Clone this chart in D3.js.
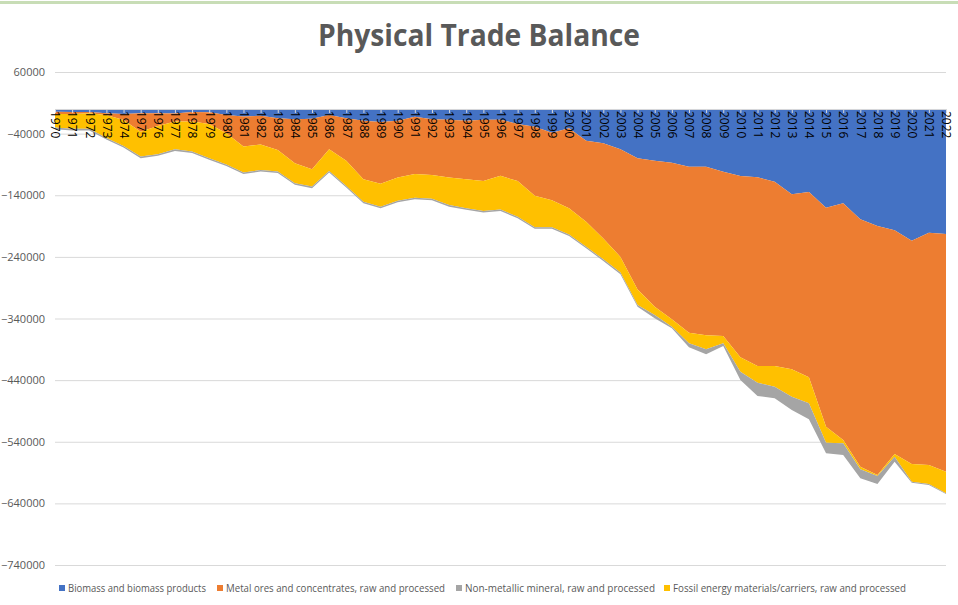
<!DOCTYPE html>
<html>
<head>
<meta charset="utf-8">
<script src="https://cdn.jsdelivr.net/npm/d3@7"></script>
<style>
  body { margin: 0; background: #fff; }
  svg text { font-family: "Open Sans", "DejaVu Sans", sans-serif; }
</style>
</head>
<body>
<div class="chart-container"></div>
<script>
// values (tonnes, negative = net export)
var years = d3.range(1970, 2023);

var biomass = [-4400, -4900, -5000, -7000, -8000, -7000, -7000, -7500, -5000, -5500,
    -9700, -12400, -11000, -15000, -16800, -16000, -9700, -15000, -19000, -21000,
    -19000, -12500, -16800, -17500, -19000, -17500, -17500, -24400, -28700, -38400,
    -31400, -51400, -55700, -65400, -80100, -83900, -87100, -93600, -93600, -101700,
    -108700, -110900, -118000, -138500, -134700, -160100, -153100, -179000, -189900, -196900,
    -213700, -200700, -202900];

var metal = [-3600, -3100, -2000, -2700, -10000, -30000, -20500, -13000, -15500, -19000,
    -29800, -48600, -46500, -51500, -71200, -82000, -55800, -69000, -95000, -100500,
    -92000, -93000, -90200, -93500, -95000, -99500, -91000, -92600, -112300, -109600,
    -129600, -131600, -154300, -174600, -212900, -237000, -254200, -269400, -273700, -266700,
    -294300, -306200, -299100, -283900, -300700, -355500, -384100, -401500, -404100, -363000,
    -362300, -377000, -385700];

var nonmetal = [-3000, -3000, -3000, -2500, -2500, -3000, -2500, -2500, -2500, -2500,
    -2500, -2500, -2500, -2500, -2500, -2500, -2500, -2500, -2500, -2500,
    -2500, -2500, -2500, -2500, -2500, -2500, -2500, -2500, -2500, -2500,
    -2500, -2500, -2500, -2500, -3000, -5400, -2600, -6500, -8100, -4400,
    -13500, -21500, -18800, -21600, -26000, -17200, -19000, -14600, -13000, -8100,
    -1600, -1600, -1200];

var fossil = [-22000, -24000, -25000, -37300, -42000, -40000, -46000, -45000, -48500, -55500,
    -50500, -42000, -41500, -35000, -32500, -28000, -35000, -41000, -36500, -37000,
    -38000, -38500, -38500, -45000, -47000, -48500, -54500, -58000, -51000, -44000,
    -42500, -40500, -34000, -25500, -25000, -13400, -12000, -17200, -22700, -11800,
    -23300, -27100, -33600, -44500, -42200, -25900, -5300, -4200, -1500, -4300,
    -28800, -30900, -35000];

var yTicks = [60000, -40000, -140000, -240000, -340000, -440000, -540000, -640000, -740000];

var seriesNames = ["Biomass and biomass products",
    "Metal ores and concentrates, raw and processed",
    "Non-metallic mineral, raw and processed",
    "Fossil energy materials/carriers, raw and processed"];
var seriesColors = ["#4472C4", "#ED7D31", "#A5A5A5", "#FFC000"];

var width = 958, height = 605;

var svg = d3.select(".chart-container")
    .append("svg")
    .attr("width", width)
    .attr("height", height);

// thin green strip along the top edge
svg.append("rect")
    .attr("x", 0).attr("y", 1)
    .attr("width", width).attr("height", 3)
    .style("fill", "#c8ddb6");

svg.append("text")
    .attr("x", 479)
    .attr("y", 46)
    .attr("text-anchor", "middle")
    .attr("textLength", 322)
    .attr("lengthAdjust", "spacingAndGlyphs")
    .style("font-size", "30px")
    .style("font-weight", "bold")
    .style("fill", "#595959")
    .text("Physical Trade Balance");

var x = d3.scalePoint()
    .domain(years)
    .range([55, 946]);

var y = d3.scaleLinear()
    .domain([-740000, 60000])
    .range([565, 72]);

// gridlines + y labels
var yAxis = d3.axisLeft(y)
    .tickValues(yTicks)
    .tickSize(-(946 - 55))
    .tickPadding(10)
    .tickFormat(d3.format("d"));

var gy = svg.append("g")
    .attr("transform", "translate(55,0)")
    .call(yAxis);
gy.select(".domain").remove();
gy.selectAll(".tick line").style("stroke", "#d9d9d9").style("stroke-width", 1);
gy.selectAll(".tick text")
    .style("font-size", "11px")
    .style("fill", "#595959");

// stacked areas (visual order: biomass, metal, fossil, non-metallic)
var rows = years.map(function(yr, i) {
    return {year: yr, biomass: biomass[i], metal: metal[i], nonmetal: nonmetal[i], fossil: fossil[i]};
});
var keys = ["biomass", "metal", "fossil", "nonmetal"];
var keyColor = {biomass: seriesColors[0], metal: seriesColors[1], nonmetal: seriesColors[2], fossil: seriesColors[3]};

var stacked = d3.stack()
    .keys(keys)
    .offset(d3.stackOffsetDiverging)(rows);

var area = d3.area()
    .x(function(d) { return x(d.data.year); })
    .y0(function(d) { return y(d[0]); })
    .y1(function(d) { return y(d[1]); });

svg.append("g")
    .selectAll("path")
    .data(stacked)
    .enter().append("path")
    .attr("d", area)
    .style("fill", function(d) { return keyColor[d.key]; });

// category axis sitting on zero
var xAxis = d3.axisBottom(x)
    .tickSize(4)
    .tickPadding(2);

var gx = svg.append("g")
    .attr("transform", "translate(0," + y(0) + ")")
    .call(xAxis);
gx.select(".domain").style("stroke", "#d9d9d9");
gx.selectAll(".tick line").style("stroke", "#d9d9d9");
gx.selectAll(".tick text")
    .attr("transform", "rotate(90)")
    .attr("x", 2)
    .attr("y", 0)
    .attr("dy", "0.35em")
    .attr("text-anchor", "start")
    .style("font-size", "12px")
    .style("fill", "#000");

// legend
var legendX = [59, 217, 456, 664];
var legendW = [138, 219, 190, 233];
var legend = svg.append("g")
    .selectAll("g")
    .data(seriesNames)
    .enter().append("g")
    .attr("transform", function(d, i) { return "translate(" + legendX[i] + ",588)"; });

legend.append("rect")
    .attr("x", 0).attr("y", -3)
    .attr("width", 6).attr("height", 6)
    .style("fill", function(d, i) { return seriesColors[i]; });

legend.append("text")
    .attr("x", 9)
    .attr("y", 0)
    .attr("dy", "0.35em")
    .attr("textLength", function(d, i) { return legendW[i]; })
    .attr("lengthAdjust", "spacingAndGlyphs")
    .style("font-size", "10px")
    .style("fill", "#595959")
    .text(function(d) { return d; });
</script>
</body>
</html>
